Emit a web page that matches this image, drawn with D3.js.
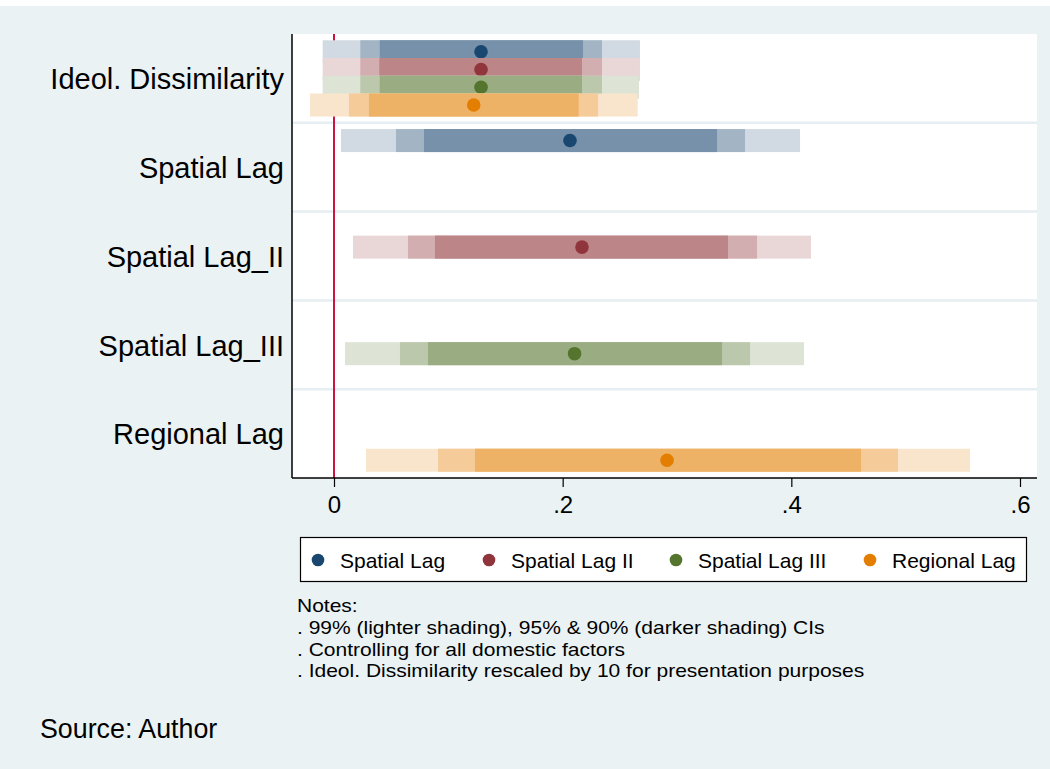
<!DOCTYPE html>
<html>
<head>
<meta charset="utf-8">
<script src="https://cdn.jsdelivr.net/npm/d3@7/dist/d3.min.js"></script>
<style>
  html, body { margin: 0; padding: 0; background: #ffffff; }
  svg { display: block; font-family: "Liberation Sans", Arial, sans-serif; }
</style>
</head>
<body>
<svg id="chart" width="1050" height="769"></svg>
<script>
// ---------------- data ----------------
const categories = ["Ideol. Dissimilarity", "Spatial Lag", "Spatial Lag_II", "Spatial Lag_III", "Regional Lag"];
const seriesNames = ["Spatial Lag", "Spatial Lag II", "Spatial Lag III", "Regional Lag"];
const seriesColors = ["#1A476F", "#90353B", "#55752F", "#E37E00"];

// each entry: [category, estimate, lo99, hi99, lo95, hi95, lo90, hi90]
const spatialLag = [
  ["Ideol. Dissimilarity", 0.1286, -0.0099, 0.2676, 0.0230, 0.2344, 0.0400, 0.2178],
  ["Spatial Lag",          0.2064,  0.0061, 0.4076, 0.0542, 0.3595, 0.0787, 0.3350]
];
const spatialLag2 = [
  ["Ideol. Dissimilarity", 0.1286, -0.0099, 0.2676, 0.0230, 0.2344, 0.0396, 0.2169],
  ["Spatial Lag_II",       0.2169,  0.0166, 0.4172, 0.0647, 0.3700, 0.0883, 0.3446]
];
const spatialLag3 = [
  ["Ideol. Dissimilarity", 0.1286, -0.0099, 0.2668, 0.0230, 0.2344, 0.0400, 0.2169],
  ["Spatial Lag_III",      0.2104,  0.0096, 0.4111, 0.0577, 0.3639, 0.0822, 0.3394]
];
const regionalLag = [
  ["Ideol. Dissimilarity", 0.1222, -0.0210, 0.2656, 0.0131, 0.2310, 0.0306, 0.2140],
  ["Regional Lag",         0.2913,  0.0280, 0.5563, 0.0910, 0.4933, 0.1233, 0.4610]
];
const seriesData = [spatialLag, spatialLag2, spatialLag3, regionalLag];

const xTickValues = [0, 0.2, 0.4, 0.6];
const xTickLabels = ["0", ".2", ".4", ".6"];
const noteLines = ["Notes:",
  ". 99% (lighter shading), 95% & 90% (darker shading) CIs",
  ". Controlling for all domestic factors",
  ". Ideol. Dissimilarity rescaled by 10 for presentation purposes"];
const sourceText = "Source: Author";

// ---------------- layout ----------------
const svg = d3.select("#chart");
const W = 1050, H = 769;
const plot = { left: 292, right: 1037, top: 34, bottom: 478 };

const layerBg = svg.append("g");
const layerGrid = svg.append("g");
const layerRef = svg.append("g");
const layerMarks = svg.append("g");
const layerAxes = svg.append("g");
const layerText = svg.append("g");

layerBg.append("rect").attr("x", 0).attr("y", 6).attr("width", W).attr("height", H - 6).attr("fill", "#EAF2F3");
layerBg.append("rect").attr("x", plot.left).attr("y", plot.top)
  .attr("width", plot.right - plot.left).attr("height", plot.bottom - plot.top).attr("fill", "#ffffff");

const x = d3.scaleLinear().domain([0, 0.6]).range([334, 1020]);
const y = d3.scaleLinear().domain([0.5, categories.length + 0.5]).range([plot.top, plot.bottom]);
const catIndex = c => categories.indexOf(c) + 1;
const offsetStep = 0.2;
const offsetOf = s => (s - (seriesNames.length - 1) / 2) * offsetStep;
const barH = 23;

function tint(hex, a) {
  const c = d3.rgb(hex);
  return d3.rgb(255 - (255 - c.r) * a, 255 - (255 - c.g) * a, 255 - (255 - c.b) * a).formatHex();
}

// gridlines between categories
const gridVals = d3.range(1.5, categories.length, 1);
layerGrid.selectAll("line").data(gridVals).join("line")
  .attr("x1", plot.left).attr("x2", plot.right)
  .attr("y1", d => y(d)).attr("y2", d => y(d))
  .attr("stroke", "#E6EEF1").attr("stroke-width", 2.5);

// zero reference line (behind the bars)
layerRef.append("line")
  .attr("x1", x(0)).attr("x2", x(0)).attr("y1", plot.top).attr("y2", plot.bottom)
  .attr("stroke", "#CC1442").attr("stroke-width", 2);

// bars + points
seriesData.forEach((rows, s) => {
  const g = layerMarks.append("g");
  const col = seriesColors[s];
  const levels = [[2, 3, 0.2], [4, 5, 0.4], [6, 7, 0.6]];
  levels.forEach(([lo, hi, a]) => {
    g.selectAll(null).data(rows).join("rect")
      .attr("x", d => x(d[lo]))
      .attr("width", d => x(d[hi]) - x(d[lo]))
      .attr("y", d => y(catIndex(d[0]) + offsetOf(s)) - barH / 2)
      .attr("height", barH)
      .attr("fill", tint(col, a));
  });
  g.selectAll(null).data(rows).join("circle")
    .attr("cx", d => x(d[1]))
    .attr("cy", d => y(catIndex(d[0]) + offsetOf(s)))
    .attr("r", 6.8)
    .attr("fill", col);
});

// y axis line
layerAxes.append("line").attr("x1", plot.left).attr("x2", plot.left)
  .attr("y1", plot.top).attr("y2", plot.bottom)
  .attr("stroke", "#000").attr("stroke-width", 1.5);

// category labels
layerText.append("g").selectAll("text").data(categories).join("text")
  .attr("x", 284).attr("y", (d, i) => y(i + 1)).attr("dy", "0.37em")
  .attr("text-anchor", "end").attr("font-size", 29).attr("fill", "#000")
  .text(d => d);

// x axis
const xAxis = d3.axisBottom(x).tickValues(xTickValues)
  .tickFormat((d, i) => xTickLabels[i]).tickSize(9).tickPadding(9).tickSizeOuter(0);
const ax = layerAxes.append("g").attr("transform", `translate(0,${plot.bottom})`).call(xAxis);
ax.select(".domain").remove();
ax.append("line").attr("x1", plot.left).attr("x2", plot.right).attr("y1", 0).attr("y2", 0)
  .attr("stroke", "#000").attr("stroke-width", 1.5);
ax.selectAll(".tick line").attr("stroke", "#000").attr("stroke-width", 1.2);
ax.selectAll(".tick text").attr("font-size", 24).attr("fill", "#000")
  .attr("font-family", "Liberation Sans, Arial, sans-serif");

// legend
const lg = layerText.append("g");
lg.append("rect").attr("x", 300.5).attr("y", 537.5).attr("width", 726).attr("height", 44)
  .attr("fill", "#fff").attr("stroke", "#000").attr("stroke-width", 1.2);
const legendDotX = [318, 489, 676, 870];
const items = lg.selectAll("g").data(seriesNames).join("g")
  .attr("transform", (d, i) => `translate(${legendDotX[i]},560)`);
items.append("circle").attr("r", 6.3).attr("fill", (d, i) => seriesColors[i]);
items.append("text").attr("x", 22).attr("dy", "0.36em").attr("font-size", 21).attr("fill", "#000").text(d => d);

// notes (tightly spaced lines, glyphs stretched slightly to the reference's width)
const noteY = [612, 634, 655.5, 677];
const noteFont = 18.5, noteStretch = 21 / 18.5;
layerText.append("g").selectAll("text").data(noteLines).join("text")
  .attr("x", 297).attr("y", (d, i) => noteY[i]).attr("font-size", noteFont).attr("fill", "#000")
  .text(d => d)
  .each(function () {
    const len = this.getComputedTextLength();
    d3.select(this).attr("textLength", len * noteStretch).attr("lengthAdjust", "spacingAndGlyphs");
  });

// source
layerText.append("text").attr("x", 40).attr("y", 738).attr("font-size", 26.8).attr("fill", "#000").text(sourceText);
</script>
</body>
</html>
